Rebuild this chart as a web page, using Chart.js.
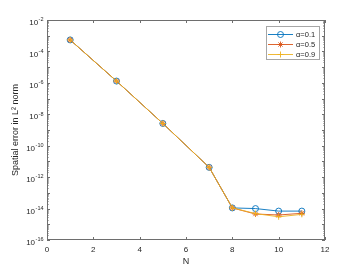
<!DOCTYPE html>
<html>
<head>
<meta charset="utf-8">
<script src="https://cdn.jsdelivr.net/npm/chart.js@4.4.0/dist/chart.umd.min.js"></script>
<style>
  html, body { margin: 0; padding: 0; background: #fff; }
  #wrap { width: 360px; height: 270px; }
</style>
</head>
<body>
<div id="wrap"><canvas id="chart" width="360" height="270"></canvas></div>
<script>
// ─── DATOS ────────────────────────────────────────────────────────────────
const N_VALUES = [1, 3, 5, 7, 8, 9, 10, 11];
const ERR_A01 = [5.4e-4, 1.3e-6, 2.6e-9, 4.2e-12, 1.1e-14, 1.0e-14, 6.9e-15, 6.9e-15];
const ERR_A05 = [5.4e-4, 1.3e-6, 2.6e-9, 4.2e-12, 1.1e-14, 4.5e-15, 3.9e-15, 5.0e-15];
const ERR_A09 = [5.4e-4, 1.3e-6, 2.6e-9, 4.2e-12, 1.1e-14, 4.8e-15, 3.0e-15, 4.3e-15];
const SERIES_LABELS = ['\u03b1=0.1', '\u03b1=0.5', '\u03b1=0.9'];
const X_TICKS = [0, 2, 4, 6, 8, 10, 12];
const Y_EXPONENTS = [-16, -14, -12, -10, -8, -6, -4, -2];

// colores MATLAB por defecto
const COLORS = ['#0072BD', '#D95319', '#EDB120'];
const MARKERS = ['circle', 'star', 'cross'];
const TEXT = '#262626';
const AXIS = '#6e6e6e';
const FONT = "'Liberation Sans', Arial, sans-serif";

function pt(x, y) { return x.map((v, i) => ({ x: v, y: y[i] })); }

function makeSet(i, values) {
  return {
    label: SERIES_LABELS[i],
    data: pt(N_VALUES, values),
    borderColor: COLORS[i],
    borderWidth: 0.9,
    pointStyle: MARKERS[i],
    pointRadius: 3,
    pointBorderWidth: 0.9,
    pointBorderColor: COLORS[i],
    pointBackgroundColor: 'rgba(0,0,0,0)',
    tension: 0,
    order: 3 - i   // el último se dibuja encima, como en MATLAB
  };
}

// ─── PLUGIN: caja, ticks, etiquetas 10^n y leyenda ───────────────────────
const matlabAxes = {
  id: 'matlabAxes',
  afterDraw(chart) {
    const ctx = chart.ctx;
    const a = chart.chartArea;
    const xs = chart.scales.x, ys = chart.scales.y;
    ctx.save();

    // caja
    ctx.strokeStyle = AXIS;
    ctx.lineWidth = 1;
    ctx.strokeRect(Math.round(a.left) + 0.5, Math.round(a.top) + 0.5,
                   Math.round(a.right - a.left) - 1, Math.round(a.bottom - a.top) - 1);

    ctx.beginPath();
    // ticks X (hacia dentro, abajo y arriba)
    X_TICKS.forEach(v => {
      const px = Math.round(xs.getPixelForValue(v)) + 0.5;
      ctx.moveTo(px, a.bottom); ctx.lineTo(px, a.bottom - 3);
      ctx.moveTo(px, a.top); ctx.lineTo(px, a.top + 3);
    });
    // ticks Y mayores y menores
    for (let e = -16; e <= -2; e++) {
      const py = Math.round(ys.getPixelForValue(Math.pow(10, e))) + 0.5;
      ctx.moveTo(a.left, py); ctx.lineTo(a.left + 3, py);
      ctx.moveTo(a.right, py); ctx.lineTo(a.right - 3, py);
      if (e < -2) {
        for (let m = 2; m <= 9; m++) {
          const pm = Math.round(ys.getPixelForValue(m * Math.pow(10, e))) + 0.5;
          ctx.moveTo(a.left, pm); ctx.lineTo(a.left + 1.5, pm);
          ctx.moveTo(a.right, pm); ctx.lineTo(a.right - 1.5, pm);
        }
      }
    }
    ctx.stroke();

    // etiquetas Y con exponente
    ctx.fillStyle = TEXT;
    ctx.textBaseline = 'middle';
    Y_EXPONENTS.forEach(e => {
      const py = ys.getPixelForValue(Math.pow(10, e));
      const exp = String(e);
      ctx.font = `5.5px ${FONT}`;
      const w = ctx.measureText(exp).width;
      ctx.textAlign = 'right';
      ctx.fillText(exp, a.left - 3.5, py - 0.2);
      ctx.font = `8px ${FONT}`;
      ctx.fillText('10', a.left - 4 - w, py + 3);
    });

    // leyenda
    const lx = 266, ly = 26, lw = 53, lh = 33;
    ctx.fillStyle = '#fff';
    ctx.fillRect(lx, ly, lw, lh);
    ctx.strokeStyle = '#a6a6a6';
    ctx.strokeRect(lx + 0.5, ly + 0.5, lw, lh);
    SERIES_LABELS.forEach((lab, i) => {
      const ry = ly + 8 + i * 10;
      ctx.strokeStyle = COLORS[i];
      ctx.lineWidth = 0.9;
      ctx.beginPath();
      ctx.moveTo(lx + 2, ry + 0.5); ctx.lineTo(lx + 27, ry + 0.5);
      ctx.stroke();
      ctx.fillStyle = 'rgba(0,0,0,0)';
      Chart.helpers.drawPoint(ctx, {
        pointStyle: MARKERS[i], radius: 3, borderWidth: 0.9, rotation: 0
      }, lx + 14.5, ry + 0.5);
      ctx.fillStyle = TEXT;
      ctx.font = `7.5px ${FONT}`;
      ctx.textAlign = 'left';
      ctx.textBaseline = 'middle';
      ctx.fillText(lab, lx + 30, ry + 1);
    });
    ctx.restore();
  }
};

new Chart(document.getElementById('chart'), {
  type: 'line',
  data: {
    datasets: [makeSet(0, ERR_A01), makeSet(1, ERR_A05), makeSet(2, ERR_A09)]
  },
  options: {
    responsive: false,
    devicePixelRatio: 1,
    animation: false,
    layout: { padding: { top: 20, right: 35, left: 0, bottom: 0 } },
    plugins: { legend: { display: false }, tooltip: { enabled: false } },
    scales: {
      x: {
        type: 'linear', min: 0, max: 12,
        afterBuildTicks: s => { s.ticks = X_TICKS.map(v => ({ value: v })); },
        afterFit: s => { s.height = 30; },
        grid: { display: false, drawTicks: false },
        border: { display: false },
        ticks: { color: TEXT, font: { family: FONT, size: 8 }, padding: 5, maxRotation: 0 },
        title: { display: true, text: 'N', color: TEXT, font: { family: FONT, size: 9 }, padding: { top: 0, bottom: 3 } }
      },
      y: {
        type: 'logarithmic', min: 1e-16, max: 1e-2,
        afterFit: s => { s.width = 47; },
        grid: { display: false, drawTicks: false },
        border: { display: false },
        ticks: { display: false },
        title: { display: true, text: 'Spatial error in L\u00b2 norm', color: TEXT, font: { family: FONT, size: 9 }, padding: { top: 10, bottom: 0 } }
      }
    }
  },
  plugins: [matlabAxes]
});
</script>
</body>
</html>
